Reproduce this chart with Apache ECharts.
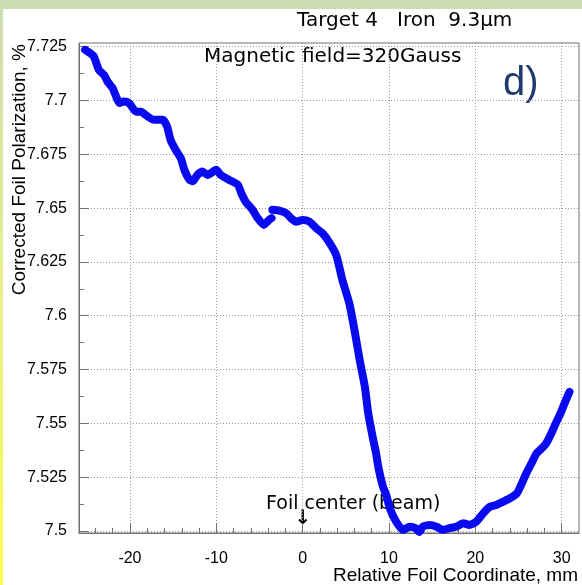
<!DOCTYPE html>
<html>
<head>
<meta charset="utf-8">
<script src="https://cdn.jsdelivr.net/npm/echarts@6/dist/echarts.min.js"></script>
<style>
html,body{margin:0;padding:0;background:#fff;}
#c{width:582px;height:585px;}
</style>
</head>
<body>
<div id="c"></div>
<script>
// ---- data ----
const segAX = [-25.2, -24.8, -24.2, -23.6, -23.0, -22.6, -22.0, -21.6, -21.2, -20.7, -20.1, -19.3, -18.7, -18.2, -17.2, -16.2, -15.7, -15.3, -14.7, -14.1, -13.7, -13.1, -12.7, -12.2, -11.6, -11.0, -10.0, -9.5, -8.5, -7.5, -7.1, -6.6, -5.8, -5.2, -4.5, -3.9, -3.6];
const segAY = [7.7235, 7.7225, 7.7205, 7.7142, 7.7119, 7.7088, 7.7057, 7.7018, 7.6988, 7.6995, 7.6988, 7.6948, 7.6948, 7.6933, 7.6910, 7.6910, 7.6879, 7.6817, 7.6770, 7.6731, 7.6678, 7.6631, 7.6625, 7.6654, 7.6670, 7.6654, 7.6678, 7.6654, 7.6631, 7.6608, 7.6569, 7.6530, 7.6492, 7.6453, 7.6422, 7.6445, 7.6453];
const segBX = [-3.5, -2.7, -1.9, -1.35, -0.77, 0.0, 0.78, 1.55, 2.3, 3.1, 3.9, 4.6, 5.4, 6.0, 6.6, 7.2, 7.6, 8.1, 8.5, 8.8, 9.3, 9.7, 10.1, 10.8, 11.6, 12.4, 13.1, 13.5, 13.9, 14.7, 15.5, 16.2, 17.0, 17.8, 18.6, 19.3, 20.1, 20.9, 21.7, 22.4, 23.2, 24.0, 24.8, 25.3, 25.9, 26.5, 27.1, 27.7, 28.2, 28.8, 29.4, 29.9, 30.4, 30.9];
const segBY = [7.6492, 7.6488, 7.6476, 7.6453, 7.6437, 7.6445, 7.6437, 7.6407, 7.6383, 7.6340, 7.6280, 7.6166, 7.6058, 7.5934, 7.5795, 7.5671, 7.5545, 7.5438, 7.5361, 7.5290, 7.5206, 7.5165, 7.5105, 7.5045, 7.5005, 7.5020, 7.5013, 7.4995, 7.5020, 7.5028, 7.5020, 7.5005, 7.5013, 7.5020, 7.5036, 7.5028, 7.5043, 7.5082, 7.5113, 7.5121, 7.5136, 7.5152, 7.5175, 7.5214, 7.5268, 7.5315, 7.5361, 7.5384, 7.5407, 7.5454, 7.5508, 7.5550, 7.5600, 7.5646];
const xMajorTicks = [-20, -10, 0, 10, 20, 30];
const xMinorTicks = [-24, -22, -18, -16, -14, -12, -8, -6, -4, -2, 2, 4, 6, 8, 12, 14, 16, 18, 22, 24, 26, 28];
const yMajorTicks = [7.5, 7.525, 7.55, 7.575, 7.6, 7.625, 7.65, 7.675, 7.7, 7.725];
const yMinorTicks = [7.5125, 7.5375, 7.5625, 7.5875, 7.6125, 7.6375, 7.6625, 7.6875, 7.7125];
const xRange = [-25.9, 32.0];
const yRange = [7.49907, 7.7267];

function pairs(xs, ys) { return xs.map((x, i) => [x, ys[i]]); }

const chart = echarts.init(document.getElementById('c'), null, {renderer: 'canvas'});
const lbl = {color: '#000', fontFamily: 'Liberation Sans', fontSize: 16};
const grid = {left: 79, top: 43, width: 500, height: 490, show: true, borderColor: '#707070', borderWidth: 1, backgroundColor: 'transparent'};
const dotted = {show: true, lineStyle: {color: '#9a9a9a', type: [1, 2], width: 1}};

const option = {
  animation: false,
  backgroundColor: '#fff',
  grid: grid,
  xAxis: [
    {type: 'value', position: 'bottom', min: xRange[0], max: xRange[1],
     axisLine: {show: true, onZero: false, lineStyle: {color: '#707070'}},
     axisTick: {show: true, inside: true, length: 10, customValues: xMajorTicks, lineStyle: {color: '#707070'}},
     axisLabel: Object.assign({customValues: xMajorTicks, margin: 18}, lbl),
     splitLine: dotted},
    {type: 'value', position: 'bottom', min: xRange[0], max: xRange[1],
     axisLine: {show: false, onZero: false},
     axisTick: {show: true, inside: true, length: 5, customValues: xMinorTicks, lineStyle: {color: '#707070'}},
     axisLabel: {show: false},
     splitLine: {show: false}}
  ],
  yAxis: [
    {type: 'value', position: 'left', min: yRange[0], max: yRange[1],
     axisLine: {show: true, onZero: false, lineStyle: {color: '#707070'}},
     axisTick: {show: true, inside: true, length: 10, customValues: yMajorTicks, lineStyle: {color: '#707070'}},
     axisLabel: Object.assign({customValues: yMajorTicks, margin: 12, formatter: v => String(+v.toFixed(4))}, lbl),
     splitLine: dotted},
    {type: 'value', position: 'left', min: yRange[0], max: yRange[1],
     axisLine: {show: false, onZero: false},
     axisTick: {show: true, inside: true, length: 5, customValues: yMinorTicks, lineStyle: {color: '#707070'}},
     axisLabel: {show: false},
     splitLine: {show: false}}
  ],
  series: [
    {type: 'line', xAxisIndex: 0, yAxisIndex: 0, data: pairs(segAX, segAY), showSymbol: false, clip: false, smooth: 0.2,
     lineStyle: {color: '#0a0aee', width: 8, cap: 'round', join: 'round'}, z: 5},
    {type: 'line', xAxisIndex: 0, yAxisIndex: 0, data: pairs(segBX, segBY), showSymbol: false, clip: false, smooth: 0.2,
     lineStyle: {color: '#0a0aee', width: 8, cap: 'round', join: 'round'}, z: 5}
  ],
  graphic: [
    {type: 'rect', shape: {x: 0, y: 0, width: 582, height: 9}, style: {fill: '#cddcb2'}, z: -10, silent: true},
    {type: 'rect', shape: {x: 0, y: 0, width: 3, height: 585},
     style: {fill: new echarts.graphic.LinearGradient(0, 0, 0, 1, [{offset: 0, color: '#cddcb2'}, {offset: 0.5, color: '#e8f08a'}, {offset: 1, color: '#fbfb50'}])}, z: -10, silent: true},
    {type: 'text', x: 297, y: 21, style: {text: 'Target 4   Iron  9.3\u03bcm', font: '20px "DejaVu Sans"', fill: '#000', textAlign: 'left', textVerticalAlign: 'middle'}},
    {type: 'text', x: 204, y: 57, style: {text: 'Magnetic field=320Gauss', font: '20px "DejaVu Sans"', fill: '#000', textAlign: 'left', textVerticalAlign: 'middle'}},
    {type: 'text', x: 503, y: 84, style: {text: 'd)', font: '40px "Liberation Sans"', fill: '#1f3a6e', textAlign: 'left', textVerticalAlign: 'middle'}},
    {type: 'text', x: 266, y: 504, style: {text: 'Foil center (beam)', font: '19px "DejaVu Sans"', fill: '#000', textAlign: 'left', textVerticalAlign: 'middle'}},
    {type: 'text', x: 303, y: 519, style: {text: '\u2193', font: 'bold 20px "DejaVu Sans"', fill: '#000', textAlign: 'center', textVerticalAlign: 'middle'}},
    {type: 'text', x: 578, y: 576, style: {text: 'Relative Foil Coordinate, mm', font: '19px "Liberation Sans"', fill: '#000', textAlign: 'right', textVerticalAlign: 'middle'}},
    {type: 'text', x: 20, y: 44, rotation: Math.PI / 2, style: {text: 'Corrected Foil Polarization, %', font: '19px "Liberation Sans"', fill: '#000', textAlign: 'right', textVerticalAlign: 'middle'}}
  ]
};
chart.setOption(option);
</script>
</body>
</html>
